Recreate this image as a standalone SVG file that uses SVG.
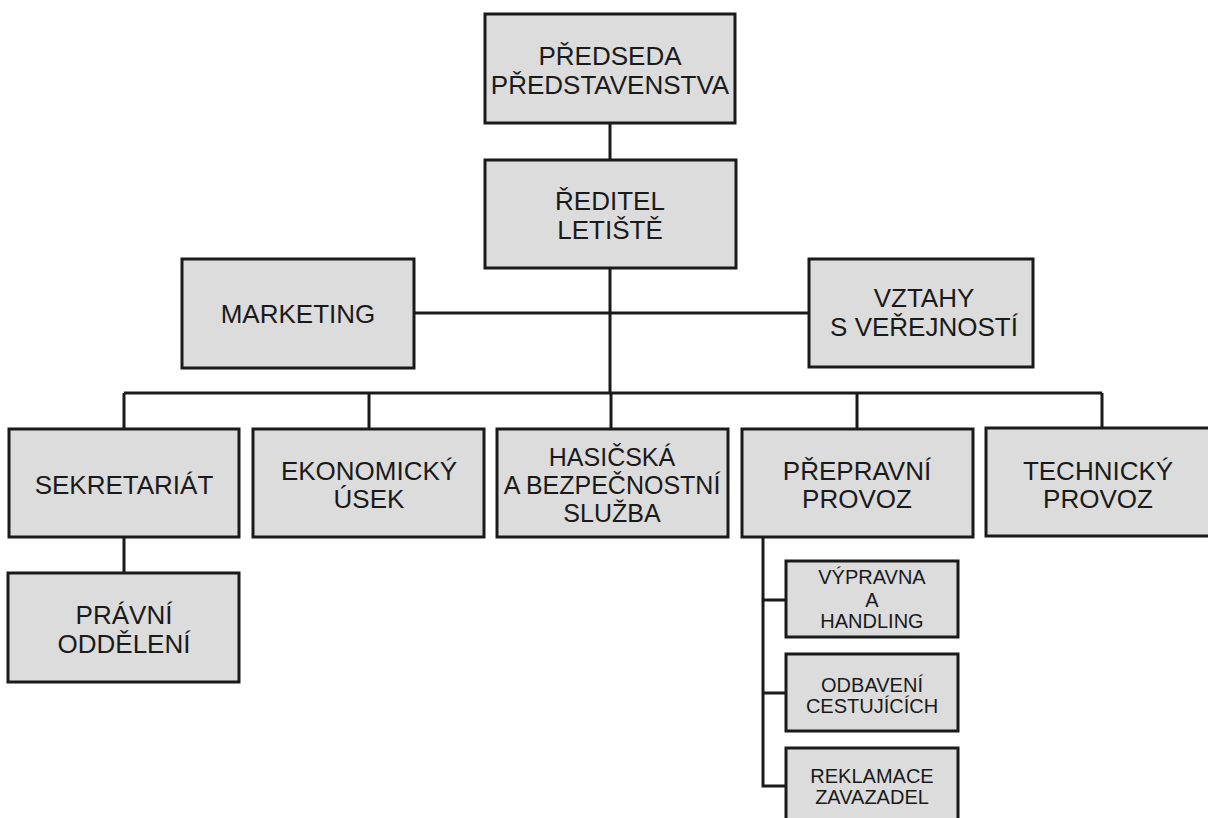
<svg xmlns="http://www.w3.org/2000/svg" width="1208" height="818" viewBox="0 0 1208 818">
<style>
.box{fill:#dcdcdc;stroke:#1a1a1a;stroke-width:3}
.t{font-family:"Liberation Sans",Arial,sans-serif;font-size:26px;fill:#1a1a1a;text-anchor:middle}
.t3{font-family:"Liberation Sans",Arial,sans-serif;font-size:25px;fill:#1a1a1a;text-anchor:middle}
.s{font-family:"Liberation Sans",Arial,sans-serif;font-size:20px;fill:#1a1a1a;text-anchor:middle}
.c{fill:none;stroke:#1a1a1a;stroke-width:3}
</style>
<rect width="1208" height="818" fill="#ffffff"/>
<g id="connectors">
<path class="c" d="M610 123V160M610 268V393M414 313H809M124 393H1102M124 393V429M369 393V429M611 393V429M857 393V429M1102 393V429M124 537V573M763 537V786H786M763 600H786M763 693H786"/>
</g>
<g id="predseda"><rect class="box" x="485" y="14" width="250" height="109"/><text class="t" x="610" y="65">PŘEDSEDA</text><text class="t" x="610" y="94">PŘEDSTAVENSTVA</text></g>
<g id="reditel"><rect class="box" x="485" y="160" width="251" height="108"/><text class="t" x="610" y="210">ŘEDITEL</text><text class="t" x="610" y="239">LETIŠTĚ</text></g>
<g id="marketing"><rect class="box" x="182" y="259" width="232" height="109"/><text class="t" x="298" y="323">MARKETING</text></g>
<g id="vztahy"><rect class="box" x="809" y="259" width="224" height="108"/><text class="t" x="924" y="307">VZTAHY</text><text class="t" x="924" y="336">S VEŘEJNOSTÍ</text></g>
<g id="sekretariat"><rect class="box" x="9" y="429" width="230" height="108"/><text class="t" x="124" y="494">SEKRETARIÁT</text></g>
<g id="ekonomicky"><rect class="box" x="253" y="429" width="231" height="108"/><text class="t" x="369" y="480">EKONOMICKÝ</text><text class="t" x="369" y="508">ÚSEK</text></g>
<g id="hasicska"><rect class="box" x="497" y="429" width="231" height="108"/><text class="t3" x="612" y="466">HASIČSKÁ</text><text class="t3" x="612" y="494">A BEZPEČNOSTNÍ</text><text class="t3" x="612" y="522">SLUŽBA</text></g>
<g id="prepravni"><rect class="box" x="742" y="429" width="231" height="108"/><text class="t" x="857" y="480">PŘEPRAVNÍ</text><text class="t" x="857" y="508">PROVOZ</text></g>
<g id="technicky"><rect class="box" x="986" y="428" width="231" height="108"/><text class="t" x="1098" y="480">TECHNICKÝ</text><text class="t" x="1098" y="508">PROVOZ</text></g>
<g id="pravni"><rect class="box" x="8" y="573" width="231" height="109"/><text class="t" x="124" y="624">PRÁVNÍ</text><text class="t" x="124" y="653">ODDĚLENÍ</text></g>
<g id="vypravna"><rect class="box" x="786" y="561" width="172" height="76"/><text class="s" x="872" y="584">VÝPRAVNA</text><text class="s" x="872" y="607">A</text><text class="s" x="872" y="628">HANDLING</text></g>
<g id="odbaveni"><rect class="box" x="786" y="654" width="172" height="77"/><text class="s" x="872" y="692">ODBAVENÍ</text><text class="s" x="872" y="713">CESTUJÍCÍCH</text></g>
<g id="reklamace"><rect class="box" x="786" y="748" width="172" height="78"/><text class="s" x="872" y="783">REKLAMACE</text><text class="s" x="872" y="804">ZAVAZADEL</text></g>
</svg>
